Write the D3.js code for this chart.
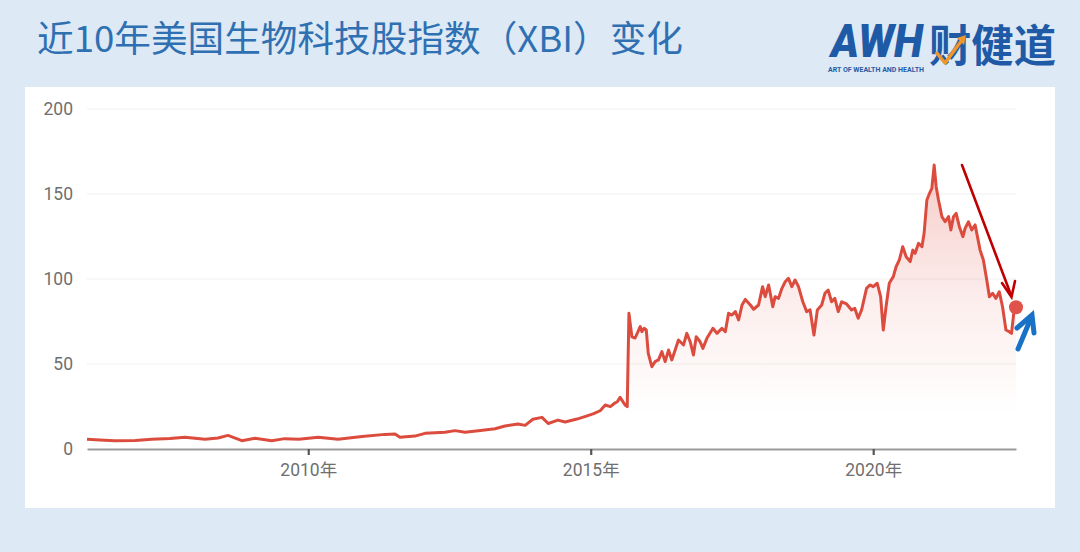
<!DOCTYPE html>
<html>
<head>
<meta charset="utf-8">
<script src="https://cdn.jsdelivr.net/npm/d3@7/dist/d3.min.js"></script>
<style>
  html, body { margin: 0; padding: 0; background: #dde9f4; }
  svg { display: block; }
</style>
</head>
<body>
<svg id="chart" width="1080" height="552"></svg>
<script>
// ---- data ----
const dates = [
  "2006-02-01","2006-04-25","2006-07-30","2006-12-10","2007-03-27","2007-07-22","2007-10-27",
  "2008-03-05","2008-05-28","2008-07-31","2008-10-29","2009-01-22","2009-05-10","2009-08-03",
  "2009-11-01","2010-03-07","2010-07-13","2010-12-15","2011-05-12","2011-07-16","2011-08-17",
  "2011-11-22","2012-01-26","2012-06-03","2012-08-07","2012-10-11","2013-01-04","2013-04-23",
  "2013-06-26","2013-09-18","2013-11-03","2013-12-23","2014-02-20","2014-04-01","2014-06-03",
  "2014-07-19","2014-10-04","2014-12-09","2015-01-20","2015-03-03","2015-04-05","2015-05-08",
  "2015-06-04","2015-06-22","2015-07-10","2015-08-11","2015-08-25","2015-09-05","2015-09-24",
  "2015-10-15","2015-11-17","2015-11-28","2015-12-12","2015-12-26","2016-01-08","2016-01-31",
  "2016-02-21","2016-03-14","2016-04-05","2016-04-26","2016-05-18","2016-06-08","2016-06-30",
  "2016-07-21","2016-08-23","2016-09-13","2016-10-05","2016-10-26","2016-11-13","2016-12-08",
  "2016-12-26","2017-01-21","2017-03-01","2017-03-27","2017-04-28","2017-05-20","2017-06-10",
  "2017-07-02","2017-07-24","2017-08-14","2017-09-05","2017-09-26","2017-10-29","2017-11-19",
  "2017-12-21","2018-01-16","2018-02-02","2018-02-24","2018-03-23","2018-04-07","2018-04-29",
  "2018-05-21","2018-06-11","2018-07-02","2018-07-24","2018-08-14","2018-09-05","2018-10-03",
  "2018-10-28","2018-11-19","2018-12-14","2019-01-05","2019-02-02","2019-02-23","2019-03-16",
  "2019-04-07","2019-04-28","2019-05-20","2019-06-11","2019-07-13","2019-08-14","2019-09-04",
  "2019-09-26","2019-10-18","2019-11-19","2019-12-10","2020-01-01","2020-01-27","2020-02-18",
  "2020-03-06","2020-03-24","2020-04-14","2020-05-10","2020-05-28","2020-06-18","2020-07-10",
  "2020-08-01","2020-08-27","2020-09-13","2020-09-28","2020-10-20","2020-11-11","2020-11-25",
  "2020-12-13","2020-12-30","2021-01-14","2021-01-29","2021-02-11","2021-02-26","2021-03-20",
  "2021-04-10","2021-05-02","2021-05-17","2021-06-03","2021-06-20","2021-07-11","2021-08-03",
  "2021-08-17","2021-09-08","2021-09-29","2021-10-21","2021-11-07","2021-11-22","2021-12-13",
  "2022-01-04","2022-01-21","2022-02-11","2022-03-04","2022-03-26","2022-04-16","2022-05-08",
  "2022-05-29","2022-06-13","2022-06-30","2022-07-12"
];
const values = [
  5.7,5.3,4.9,5.0,5.7,6.2,6.9,
  5.7,6.5,8.0,4.9,6.3,4.9,6.1,
  5.8,6.9,5.7,7.3,8.6,8.8,6.9,
  7.6,9.2,9.8,10.8,9.8,10.8,11.9,
  13.5,14.7,13.9,17.5,18.6,15.0,17.0,
  15.9,17.6,19.5,20.8,22.5,25.9,24.9,
  26.9,27.8,30.4,25.9,24.9,79.8,66.0,
  65.3,72.0,69.0,71.0,70.0,56.3,48.4,
  51.4,52.4,57.3,51.4,58.2,52.4,58.2,
  64.1,61.2,68.0,63.1,55.3,66.0,63.1,
  59.2,65.1,71.0,68.0,71.0,69.0,79.8,
  78.8,80.8,75.9,84.7,88.0,84.7,82.2,
  84.7,95.5,89.6,96.5,83.7,89.6,88.6,
  94.5,98.4,100.4,95.5,99.4,95.5,86.6,
  80.8,81.8,67.0,81.8,84.7,91.6,93.5,
  86.6,88.6,80.8,86.6,85.3,81.8,82.7,
  76.9,81.8,94.5,96.5,95.5,97.5,89.6,
  70.0,83.7,97.5,101.4,107.2,111.2,119.0,
  113.1,110.2,117.0,115.1,121.0,119.0,126.9,
  146.5,150.4,153.3,167.0,154.3,146.5,136.7,
  133.7,136.7,128.8,136.7,138.6,130.8,124.9,
  129.8,133.7,128.8,131.8,123.9,117.0,111.2,
  99.4,89.6,91.6,88.6,92.5,83.7,70.0,
  69.0,68.0,81.8,84.0
];
const yTicks = [0, 50, 100, 150, 200];
const xTickYears = ["2010-01-01", "2015-01-01", "2020-01-01"];
const titleText = "近10年美国生物科技股指数（XBI）变化";

// ---- setup ----
const parse = d3.timeParse("%Y-%m-%d");
const data = dates.map((d, i) => ({ date: parse(d), value: values[i] }));

const svg = d3.select("#chart");
const plot = { left: 87, right: 1016, top: 109, bottom: 449 };

const x = d3.scaleTime()
  .domain(d3.extent(data, d => d.date))
  .range([plot.left, plot.right]);
const y = d3.scaleLinear()
  .domain([0, 200])
  .range([plot.bottom, plot.top]);

// background + panel
svg.append("rect").attr("width", 1080).attr("height", 552).attr("fill", "#dde9f4");
svg.append("rect").attr("x", 25).attr("y", 87).attr("width", 1030).attr("height", 421).attr("fill", "#ffffff");

// title
svg.append("text")
  .attr("x", 37).attr("y", 52)
  .attr("font-family", "'Noto Sans CJK SC', 'Noto Sans', sans-serif")
  .attr("font-size", 36)
  .attr("textLength", 646).attr("lengthAdjust", "spacingAndGlyphs")
  .attr("fill", "#2f70b3")
  .text(titleText);

// logo
const logo = svg.append("g");
logo.append("text")
  .attr("x", 831).attr("y", 57)
  .attr("font-family", "Roboto, 'Liberation Sans', sans-serif")
  .attr("font-weight", 900).attr("font-style", "italic")
  .attr("font-size", 46)
  .attr("textLength", 92).attr("lengthAdjust", "spacingAndGlyphs")
  .attr("fill", "#1f5aa6")
  .text("AWH");
logo.append("text")
  .attr("x", 929).attr("y", 62)
  .attr("font-family", "'Noto Sans CJK SC', sans-serif")
  .attr("font-weight", 700)
  .attr("font-size", 44)
  .attr("textLength", 127).attr("lengthAdjust", "spacingAndGlyphs")
  .attr("fill", "#1f5aa6")
  .text("财健道");
logo.append("text")
  .attr("x", 828).attr("y", 72)
  .attr("font-family", "Roboto, sans-serif")
  .attr("font-weight", 700)
  .attr("font-size", 6.5)
  .attr("textLength", 96).attr("lengthAdjust", "spacingAndGlyphs")
  .attr("fill", "#1f5aa6")
  .text("ART OF WEALTH AND HEALTH");
logo.append("path")
  .attr("d", "M936,52 L945,63 L962,40")
  .attr("fill", "none").attr("stroke", "#f0962a").attr("stroke-width", 3.5)
  .attr("stroke-linejoin", "round");
logo.append("path")
  .attr("d", "M957,38 L966,35 L964,45 Z")
  .attr("fill", "#f0962a");

// grid lines
svg.append("g")
  .selectAll("line")
  .data(yTicks.filter(t => t > 0))
  .join("line")
  .attr("x1", plot.left).attr("x2", plot.right)
  .attr("y1", d => y(d)).attr("y2", d => y(d))
  .attr("stroke", "#efefef").attr("stroke-width", 1.2);

// y axis labels
const yAxis = d3.axisLeft(y).tickValues(yTicks).tickSize(0).tickPadding(14);
const gy = svg.append("g").attr("transform", `translate(${plot.left},0)`).call(yAxis);
gy.select(".domain").remove();
gy.selectAll("text")
  .attr("font-family", "Roboto, sans-serif")
  .attr("font-size", 17.5)
  .attr("fill", "#6f6f6f");

// area gradient
const defs = svg.append("defs");
const grad = defs.append("linearGradient")
  .attr("id", "areaGrad")
  .attr("gradientUnits", "userSpaceOnUse")
  .attr("x1", 0).attr("x2", 0)
  .attr("y1", y(167)).attr("y2", y(20));
grad.append("stop").attr("offset", "0%").attr("stop-color", "#e0564a").attr("stop-opacity", 0.30);
grad.append("stop").attr("offset", "55%").attr("stop-color", "#e0564a").attr("stop-opacity", 0.10);
grad.append("stop").attr("offset", "100%").attr("stop-color", "#e0564a").attr("stop-opacity", 0.0);

const area = d3.area()
  .x(d => x(d.date))
  .y0(y(0))
  .y1(d => y(d.value));
svg.append("path")
  .datum(data)
  .attr("d", area)
  .attr("fill", "url(#areaGrad)");

// x axis
const xAxis = d3.axisBottom(x)
  .tickValues(xTickYears.map(parse))
  .tickFormat(d3.timeFormat("%Y年"))
  .tickSize(6).tickSizeOuter(0).tickPadding(9);
const gx = svg.append("g").attr("transform", `translate(0,${plot.bottom})`).call(xAxis);
gx.select(".domain").attr("stroke", "#9a9a9a").attr("stroke-width", 1.8);
gx.selectAll(".tick line").attr("stroke", "#555").attr("stroke-width", 2.2);
gx.selectAll("text")
  .attr("font-family", "Roboto, 'Noto Sans CJK SC', sans-serif")
  .attr("font-size", 17.5)
  .attr("fill", "#6f6f6f");

// line
const line = d3.line()
  .x(d => x(d.date))
  .y(d => y(d.value));
svg.append("path")
  .datum(data)
  .attr("d", line)
  .attr("fill", "none")
  .attr("stroke", "#dc4c3e")
  .attr("stroke-width", 3)
  .attr("stroke-linejoin", "round");

// end dot
const last = data[data.length - 1];
svg.append("circle")
  .attr("cx", x(last.date)).attr("cy", y(last.value) + 1)
  .attr("r", 7)
  .attr("fill", "#e0524a");

// annotation: red arrow (down)
const ann = svg.append("g");
ann.append("path")
  .attr("d", "M962,165 L1011,295")
  .attr("fill", "none")
  .attr("stroke", "#c00000").attr("stroke-width", 2.6)
  .attr("stroke-linecap", "round");
ann.append("path")
  .attr("d", "M1002,283 L1011.5,297 L1015,281")
  .attr("fill", "none")
  .attr("stroke", "#c00000").attr("stroke-width", 2.6)
  .attr("stroke-linecap", "round").attr("stroke-linejoin", "miter");

// annotation: blue arrow (up)
ann.append("path")
  .attr("d", "M1018,349 L1031,318")
  .attr("fill", "none")
  .attr("stroke", "#1a72c6").attr("stroke-width", 5)
  .attr("stroke-linecap", "round");
ann.append("path")
  .attr("d", "M1017,328 L1032,315 L1034,333")
  .attr("fill", "none")
  .attr("stroke", "#1a72c6").attr("stroke-width", 5)
  .attr("stroke-linecap", "round").attr("stroke-linejoin", "miter");
</script>
</body>
</html>
